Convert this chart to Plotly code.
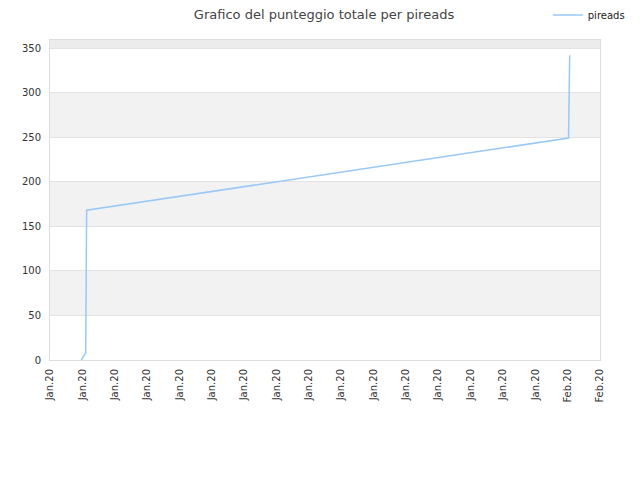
import plotly.graph_objects as go

# Data
times = ['2020-01-16 23:15', '2020-01-17 02:30', '2020-01-17 03:10',
         '2020-02-01 00:40', '2020-02-01 01:30']
scores = [0, 8, 168, 249, 342]
band_edges = [50, 100, 150, 200, 250, 300, 350]

fig = go.Figure(go.Scatter(
    x=times, y=scores, mode='lines', name='pireads',
    line=dict(color='#99c8f5', width=1.5)
))

# alternating grey bands behind the plot
shapes = []
for i, lo in enumerate(band_edges):
    if i % 2 == 0:
        shapes.append(dict(type='rect', xref='paper', yref='y', x0=0, x1=1,
                           y0=lo, y1=lo + 50, fillcolor='#f2f2f2', line_width=0,
                           layer='below'))
shapes.append(dict(type='rect', xref='paper', yref='y', x0=0, x1=1,
                   y0=350, y1=359, fillcolor='#ececec', line_width=0,
                   layer='below'))

fig.update_layout(
    width=632, height=472,
    title=dict(text='Grafico del punteggio totale per pireads', x=0.5,
               xref='container', y=0.986, yref='container', yanchor='middle',
               font=dict(size=13, color='#444')),
    font=dict(family='DejaVu Sans', size=10, color='#333'),
    paper_bgcolor='white', plot_bgcolor='white',
    margin=dict(l=42, r=40, t=32, b=120, autoexpand=False),
    shapes=shapes,
    showlegend=True,
    legend=dict(x=0.905, y=0.985, xref='paper', yref='container',
                xanchor='left', yanchor='middle', itemwidth=30,
                font=dict(size=10, color='#222'), bgcolor='rgba(0,0,0,0)'),
    xaxis=dict(range=['2020-01-16', '2020-02-02'], dtick=86400000,
               tick0='2020-01-16', tickformat='%b.%y', tickangle=-90,
               showgrid=False, showline=True, linecolor='#dddddd',
               mirror=True, ticks='', zeroline=False, ticklabelstandoff=4),
    yaxis=dict(range=[0, 359], dtick=50, showgrid=True, gridcolor='#e3e3e3',
               showline=True, linecolor='#dddddd', mirror=True,
               zeroline=False, ticks='', ticklabelstandoff=6),
)

fig.write_html('out.html')
